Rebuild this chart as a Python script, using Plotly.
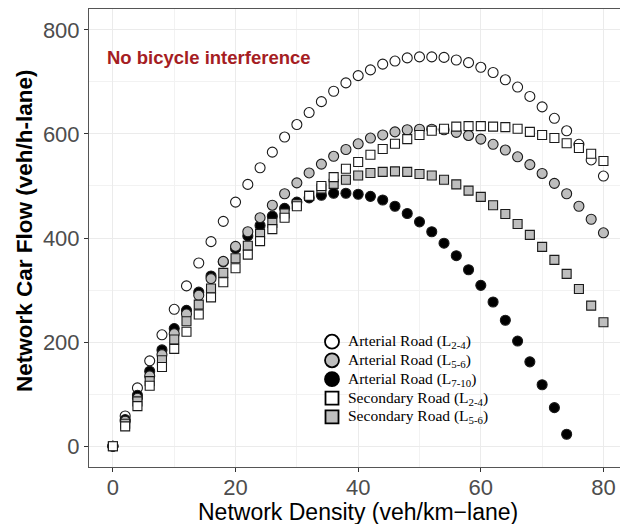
import plotly.graph_objects as go

density = list(range(0, 82, 2))

arterial_2_4 = [0, 58, 112, 164, 214, 263, 308, 352, 393, 432, 469, 503, 535, 565, 594, 618,
                641, 662, 682, 698, 712, 723, 734, 740, 746, 748, 748, 747, 742, 737, 728,
                718, 704, 690, 672, 652, 630, 606, 580, 550, 519]
arterial_5_6 = [0, 48, 92, 135, 176, 216, 254, 290, 322, 355, 384, 412, 439, 463, 485, 506,
                525, 542, 557, 570, 581, 592, 598, 604, 608, 609, 609, 608, 603, 597, 590,
                580, 569, 556, 541, 524, 505, 485, 461, 436, 410]
density_7_10 = list(range(0, 76, 2))
arterial_7_10 = [0, 51, 98, 144, 185, 226, 261, 296, 327, 354, 380, 404, 424, 442, 457, 469,
                 477, 482, 486, 486, 484, 480, 473, 461, 447, 431, 412, 390, 366, 339, 309,
                 277, 242, 202, 162, 118, 74, 23]
secondary_2_4 = [0, 38, 77, 116, 152, 187, 220, 253, 286, 315, 342, 368, 394, 417, 439, 461,
                 481, 500, 517, 533, 546, 560, 571, 581, 590, 598, 606, 610, 614, 615, 615,
                 614, 613, 610, 604, 598, 592, 582, 573, 562, 548]
secondary_5_6 = [0, 43, 86, 125, 165, 205, 240, 272, 303, 333, 361, 385, 408, 429, 447, 465,
                 481, 495, 504, 512, 520, 525, 527, 528, 527, 523, 520, 512, 503, 491, 479,
                 463, 446, 427, 406, 383, 358, 331, 302, 270, 238]

legend_names = ["Arterial Road (L<sub>2-4</sub>)", "Arterial Road (L<sub>5-6</sub>)",
                "Arterial Road (L<sub>7-10</sub>)", "Secondary Road (L<sub>2-4</sub>)",
                "Secondary Road (L<sub>5-6</sub>)"]

WHITE, GRAY, BLACK = "#FFFFFF", "#BEBEBE", "#000000"
series = {
    "a24": (density, arterial_2_4, "circle", WHITE),
    "a56": (density, arterial_5_6, "circle", GRAY),
    "a710": (density_7_10, arterial_7_10, "circle", BLACK),
    "s24": (density, secondary_2_4, "square", WHITE),
    "s56": (density, secondary_5_6, "square", GRAY),
}

W, H = 620, 524
ML, MR, MT, MB = 89, 0, 9, 57
PW, PH = W - ML - MR, H - MT - MB


def px(xp):
    return (xp - ML) / PW


def py(yp):
    return (H - MB - yp) / PH


fig = go.Figure()
for key in ["a24", "a710", "a56", "s56", "s24"]:
    xs, ys, sym, fill = series[key]
    fig.add_trace(go.Scatter(
        x=xs, y=ys, mode="markers", showlegend=False, hoverinfo="skip",
        marker=dict(symbol=sym, size=10 if sym == "circle" else 9, color=fill,
                    line=dict(color="#1a1a1a", width=1.1))))

axis_common = dict(
    ticks="outside", ticklen=4, tickwidth=1, tickcolor="#333333",
    tickfont=dict(family="Liberation Sans, Arial", size=22, color="#4D4D4D"),
    showgrid=True, gridcolor="#EBEBEB", gridwidth=1.1, zeroline=False,
    showline=True, linecolor="#555555", linewidth=1,
)

fig.update_xaxes(
    range=[-3.9, 82.7], tickvals=[0, 20, 40, 60, 80], mirror=True, ticklabelstandoff=-3,
    **axis_common,
    minor=dict(tickvals=[10, 30, 50, 70], showgrid=True, gridcolor="#F2F2F2", gridwidth=0.8, ticks=""),
)
fig.update_yaxes(
    range=[-40, 840], tickvals=[0, 200, 400, 600, 800], mirror=False, **axis_common,
    minor=dict(tickvals=[100, 300, 500, 700], showgrid=True, gridcolor="#F2F2F2", gridwidth=0.8, ticks=""),
)

# axis titles
fig.add_annotation(x=px(358), y=py(512), xref="paper", yref="paper", showarrow=False,
                   xanchor="center", yanchor="middle",
                   text="Network Density (veh/km\u2212lane)",
                   font=dict(family="Liberation Sans, Arial", size=23, color="#000000"))
fig.add_annotation(x=px(24), y=py(231), xref="paper", yref="paper", showarrow=False,
                   xanchor="center", yanchor="middle", textangle=-90,
                   text="<b>Network Car Flow (veh/h-lane)</b>",
                   font=dict(family="Liberation Sans, Arial", size=22.5, color="#000000"))

fig.add_annotation(x=px(105), y=py(58), xref="paper", yref="paper", xanchor="left", yanchor="middle",
                   text="<b>No bicycle interference</b>", showarrow=False,
                   font=dict(family="Liberation Sans, Arial", size=18.5, color="#A51D23"))

# manual legend
shapes = [dict(type="rect", xref="paper", yref="paper", x0=px(322), x1=px(498),
               y0=py(429), y1=py(330), fillcolor="white", line=dict(width=0), layer="between")]
rows_y = [341.7, 360.3, 379.2, 398.2, 416.8]
sym_x = 332
for (key, name, yrow) in zip(["a24", "a56", "a710", "s24", "s56"], legend_names, rows_y):
    _, _, sym, fill = series[key]
    r = 7 if sym == "circle" else 6.5
    shapes.append(dict(type="circle" if sym == "circle" else "rect",
                       xref="paper", yref="paper", xsizemode="pixel", ysizemode="pixel",
                       xanchor=px(sym_x), yanchor=py(yrow), x0=-r, x1=r, y0=-r, y1=r,
                       fillcolor=fill, line=dict(color="#000000", width=1.8), layer="above"))
    fig.add_annotation(x=px(346), y=py(yrow), xref="paper", yref="paper", showarrow=False,
                       xanchor="left", yanchor="middle", text=name,
                       font=dict(family="Liberation Serif, Times New Roman", size=15.5, color="#000000"))

fig.update_layout(
    width=W, height=H,
    margin=dict(l=ML, r=MR, t=MT, b=MB),
    paper_bgcolor="white", plot_bgcolor="white",
    showlegend=False, shapes=shapes,
)

fig.write_html("out.html")
